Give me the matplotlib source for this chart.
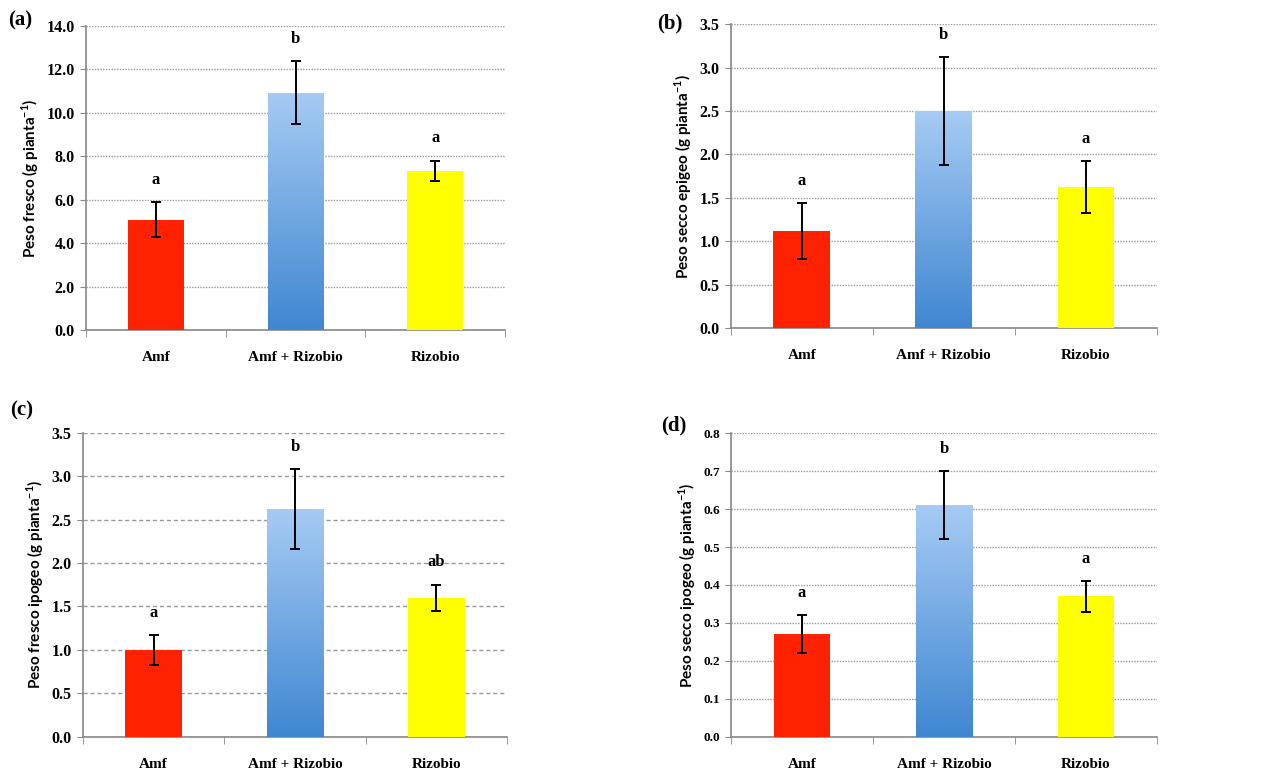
import matplotlib.pyplot as plt
import numpy as np
from matplotlib.colors import LinearSegmentedColormap

categories = ["Amf", "Amf + Rizobio", "Rizobio"]

# panel data (mean, error)
fresco_mean = [5.07, 10.93, 7.34]
fresco_err = [0.80, 1.46, 0.46]
fresco_letters = ["a", "b", "a"]

secco_epi_mean = [1.12, 2.50, 1.625]
secco_epi_err = [0.32, 0.62, 0.30]
secco_epi_letters = ["a", "b", "a"]

fresco_ipo_mean = [1.00, 2.62, 1.60]
fresco_ipo_err = [0.17, 0.46, 0.15]
fresco_ipo_letters = ["a", "b", "ab"]

secco_ipo_mean = [0.27, 0.61, 0.37]
secco_ipo_err = [0.05, 0.09, 0.04]
secco_ipo_letters = ["a", "b", "a"]

serif = "Liberation Serif"
sans = "Lato"

blue_cmap = LinearSegmentedColormap.from_list("blu", ["#3f87d1", "#a6cbf4"])


def draw_panel(ax, means, errs, letters, ymax, step, ylabel, grid_style, tick_fs):
    x = np.arange(len(categories))
    bars = ax.bar(x, means, width=0.4, color=["#ff2200", "none", "#ffff00"], zorder=3)
    # gradient fill for the middle bar
    b = bars[1]
    grad = np.linspace(0, 1, 256).reshape(-1, 1)
    im = ax.imshow(grad, cmap=blue_cmap, origin="lower", aspect="auto",
                   extent=[b.get_x(), b.get_x() + b.get_width(), 0, b.get_height()], zorder=3)
    im.set_clip_path(b)
    ax.errorbar(x, means, yerr=errs, fmt="none", ecolor="black", elinewidth=1.4,
                capsize=3.5, capthick=1.4, zorder=4)
    for i in range(len(x)):
        ax.annotate(letters[i], xy=(x[i], means[i] + errs[i]), xytext=(0, 16),
                    textcoords="offset points", ha="center", va="center",
                    fontsize=12, fontweight="bold", family=serif)

    ax.set_xlim(-0.5, 2.5)
    ax.set_ylim(0, ymax)
    ticks = np.arange(0, ymax + step / 2, step)
    ax.set_yticks(ticks)
    ax.set_yticklabels(["%.1f" % v for v in ticks],
                       fontsize=tick_fs, fontweight="bold", family=serif)
    ax.set_xticks(x)
    ax.set_xticklabels(categories, fontsize=11, fontweight="bold", family=serif)
    ax.set_xticks([-0.5, 0.5, 1.5, 2.5], minor=True)
    ax.tick_params(axis="x", which="major", length=0, pad=15)
    ax.tick_params(axis="x", which="minor", length=5, color="#888888", direction="out")
    ax.tick_params(axis="y", length=4, color="#888888", pad=4)
    ax.yaxis.grid(True, linestyle=grid_style, color="#9a9a9a", linewidth=1.0, zorder=0)
    ax.set_axisbelow(True)
    for s in ["top", "right"]:
        ax.spines[s].set_visible(False)
    for s in ["left", "bottom"]:
        ax.spines[s].set_color("#888888")
        ax.spines[s].set_linewidth(1.2)
    ax.set_ylabel(ylabel, fontsize=11, fontweight="bold", family=sans, labelpad=4)
    return ax


fig = plt.figure(figsize=(12.82, 7.74), dpi=100)

ax1 = fig.add_axes([0.0671, 0.5736, 0.327, 0.393])
draw_panel(ax1, fresco_mean, fresco_err, fresco_letters, 14.0, 2.0,
           "Peso fresco (g pianta$^{\\mathregular{-1}}$)", (0, (1, 1)), 11.5)

ax2 = fig.add_axes([0.570, 0.5762, 0.3325, 0.3924])
draw_panel(ax2, secco_epi_mean, secco_epi_err, secco_epi_letters, 3.5, 0.5,
           "Peso secco epigeo (g pianta$^{\\mathregular{-1}}$)", (0, (1, 1)), 11.5)

ax3 = fig.add_axes([0.0647, 0.0482, 0.3308, 0.3928])
draw_panel(ax3, fresco_ipo_mean, fresco_ipo_err, fresco_ipo_letters, 3.5, 0.5,
           "Peso fresco ipogeo (g pianta$^{\\mathregular{-1}}$)", (0, (3, 2)), 11.5)

ax4 = fig.add_axes([0.5702, 0.0482, 0.3323, 0.392])
draw_panel(ax4, secco_ipo_mean, secco_ipo_err, secco_ipo_letters, 0.8, 0.1,
           "Peso secco ipogeo (g pianta$^{\\mathregular{-1}}$)", (0, (1, 1)), 9.5)

# panel tags
fig.text(8 / 1282, 1 - 20 / 774, "(a)", fontsize=15, fontweight="bold", family=serif, va="center")
fig.text(657 / 1282, 1 - 23 / 774, "(b)", fontsize=15, fontweight="bold", family=serif, va="center")
fig.text(10 / 1282, 1 - 410 / 774, "(c)", fontsize=15, fontweight="bold", family=serif, va="center")
fig.text(661 / 1282, 1 - 425 / 774, "(d)", fontsize=15, fontweight="bold", family=serif, va="center")

fig.savefig("out.png", dpi=100)
